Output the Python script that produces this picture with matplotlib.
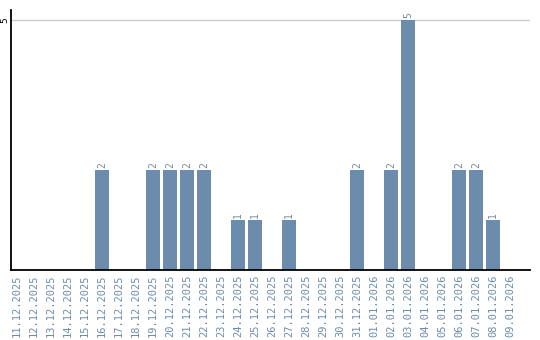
import matplotlib
matplotlib.use('Agg')
import matplotlib.pyplot as plt
import numpy as np

# データ
dates = ['11.12.2025', '12.12.2025', '13.12.2025', '14.12.2025', '15.12.2025',
         '16.12.2025', '17.12.2025', '18.12.2025', '19.12.2025', '20.12.2025',
         '21.12.2025', '22.12.2025', '23.12.2025', '24.12.2025', '25.12.2025',
         '26.12.2025', '27.12.2025', '28.12.2025', '29.12.2025', '30.12.2025',
         '31.12.2025', '01.01.2026', '02.01.2026', '03.01.2026', '04.01.2026',
         '05.01.2026', '06.01.2026', '07.01.2026', '08.01.2026', '09.01.2026']
counts = [0, 0, 0, 0, 0, 2, 0, 0, 2, 2,
          2, 2, 0, 1, 1, 0, 1, 0, 0, 0,
          2, 0, 2, 5, 0, 0, 2, 2, 1, 0]

bar_color = '#6b8cad'
label_color = '#6b8cad'

fig = plt.figure(figsize=(5.4, 3.4), dpi=100)
ax = fig.add_axes([0.0204, 0.2059, 0.9611, 0.7647])

x = np.arange(len(dates))
bars = ax.bar(x, counts, width=0.82, color=bar_color, zorder=2)

# 値ラベル
for xi, v in zip(x, counts):
    if v > 0:
        ax.text(xi, v + 0.04, str(v), rotation=90, ha='center', va='bottom',
                fontsize=7, color='#7a8a9a', family='DejaVu Sans Mono')

ax.set_xlim(-0.35, 30.18)
ax.set_ylim(0, 5.2)
ax.set_xticks(x)
ax.set_xticklabels(dates, rotation=90, fontsize=7.5, color=label_color,
                   family='DejaVu Sans Mono')
ax.set_yticks([5])
ax.set_yticklabels(['5'], rotation=90, fontsize=6.5, va='center')
ax.tick_params(axis='x', length=0, pad=3)
ax.tick_params(axis='y', length=0, pad=1)

ax.axhline(5, color='#cccccc', linewidth=1, zorder=1)

for s in ['top', 'right']:
    ax.spines[s].set_visible(False)
ax.spines['left'].set_linewidth(1.3)
ax.spines['bottom'].set_linewidth(1.3)

fig.savefig('out.png', dpi=100)
